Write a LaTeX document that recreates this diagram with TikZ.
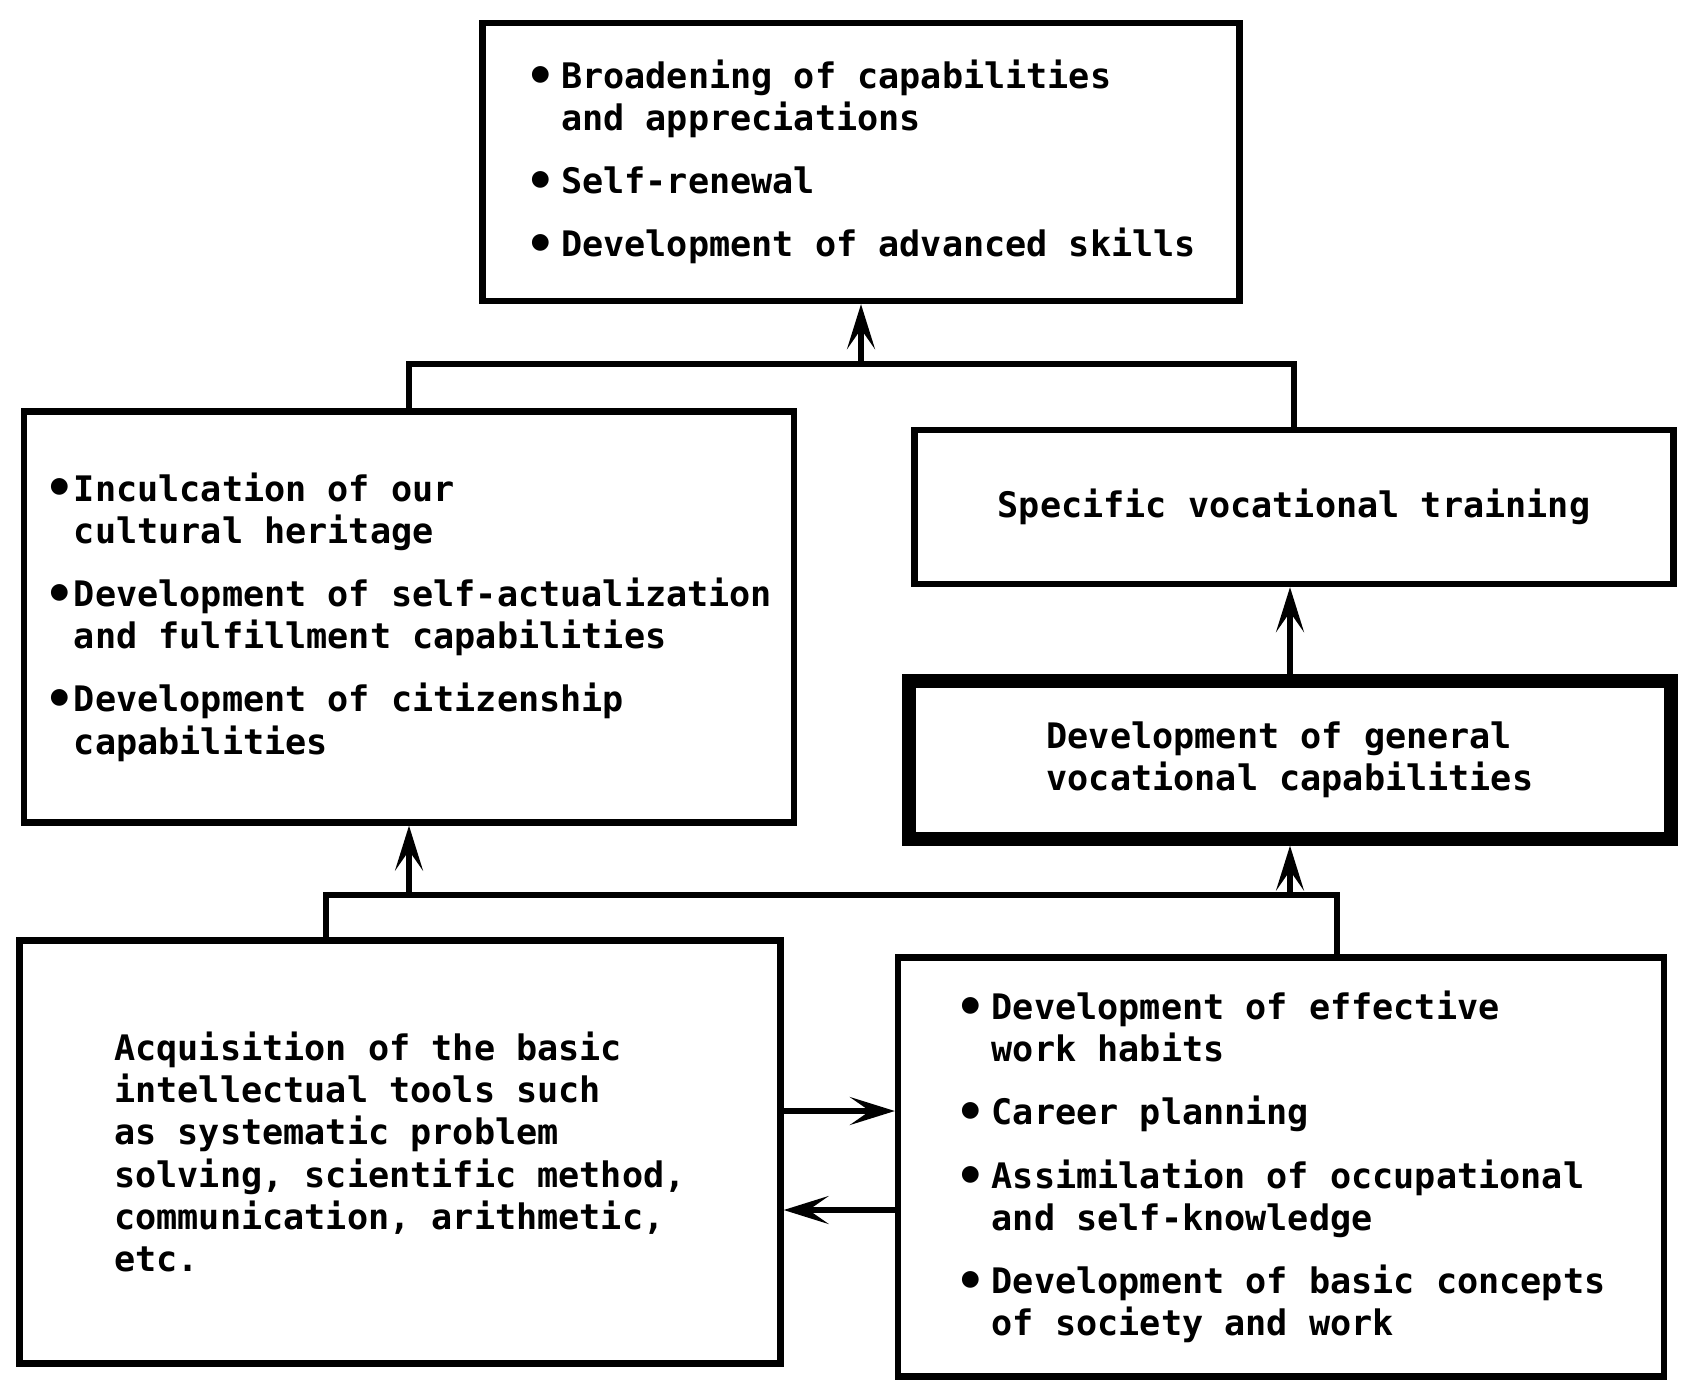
\documentclass[tikz,border=0pt]{standalone}
\usepackage{fontspec}
\setmainfont{DejaVu Sans Mono}
\usetikzlibrary{arrows.meta}
\newcommand{\bul}[1][1em]{\makebox[#1][l]{\raisebox{-0.2ex}{\scalebox{1.35}{\textbullet}}}}
\newcommand{\hang}[1][1em]{\makebox[#1]{}}

\begin{document}
\begin{tikzpicture}[
  x=0.1mm, y=-0.1mm,
  every node/.style={font=\fontsize{10}{12}\selectfont\bfseries},
  stage/.style={draw,line width=1.8pt,align=left,inner sep=0pt},
  core/.style={stage,line width=3.8pt},
  link/.style={line width=1.5pt},
  arr/.style={link,-{Stealth[length=4.5mm,width=2.8mm,inset=2mm]}},
]
  \useasboundingbox (0,0) rectangle (1687,1387);

  \node[stage, minimum width=75.7mm, minimum height=27.8mm] (goal) at (861,162)
    {\bul Broadening of capabilities\\\hang and appreciations\\[6pt]
     \bul Self-renewal\\[6pt]
     \bul Development of advanced skills};
  \node[stage, minimum width=77mm, minimum height=41.1mm] (general) at (409,617)
    {\bul[0.8em]Inculcation of our\\\hang[0.8em]cultural heritage\\[6pt]
     \bul[0.8em]Development of self-actualization\\\hang[0.8em]and fulfillment capabilities\\[6pt]
     \bul[0.8em]Development of citizenship\\\hang[0.8em]capabilities};
  \node[stage, minimum width=75.9mm, minimum height=15.4mm] (specific) at (1294,507)
    {Specific vocational training};
  \node[core, minimum width=76.2mm, minimum height=15.8mm] (gencap) at (1290,760)
    {Development of general\\vocational capabilities};
  \node[stage, minimum width=76.1mm, minimum height=42.3mm] (basic) at (400,1152)
    {Acquisition of the basic\\intellectual tools such\\as systematic problem\\
     solving, scientific method,\\communication, arithmetic,\\etc.};
  \node[stage, minimum width=76.6mm, minimum height=41.9mm] (career) at (1281,1167)
    {\bul Development of effective\\\hang work habits\\[6pt]
     \bul Career planning\\[6pt]
     \bul Assimilation of occupational\\\hang and self-knowledge\\[6pt]
     \bul Development of basic concepts\\\hang of society and work};

  \coordinate (upper) at (861,364);
  \coordinate (lowL) at (326,895);
  \coordinate (lowR) at (1337,895);
  \coordinate (fwd) at (0,1111);
  \coordinate (back) at (0,1210);

  \draw[link] (general.north) |- (upper) -| (specific.north);
  \draw[arr] (upper) -- (goal.south);
  \draw[arr] (gencap.north) -- (gencap.north |- specific.south);
  \draw[link] (lowL |- basic.north) -- (lowL) -- (lowR) -- (lowR |- career.north);
  \draw[arr] (general.south |- lowL) -- (general.south);
  \draw[arr] (gencap.south |- lowR) -- (gencap.south);
  \draw[arr] (basic.east |- fwd) -- (career.west |- fwd);
  \draw[arr] (career.west |- back) -- (basic.east |- back);
\end{tikzpicture}
\end{document}
